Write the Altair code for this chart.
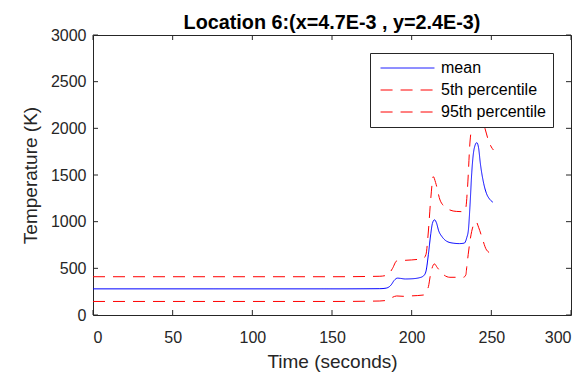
import altair as alt
import pandas as pd

# ---- data ----
series_names = ["mean", "5th percentile", "95th percentile"]

mean_time = [0, 150, 180, 184, 187, 189, 191, 193, 196, 200, 205, 207.5, 209, 210.5,
             212, 213, 214.3, 215.5, 217, 219, 222, 226, 230, 233, 234.6, 235.6, 236.7,
             237.7, 239.2, 240.9, 242, 243.1, 245.2, 247, 249, 251]
mean_temp = [280, 280, 282, 288, 320, 370, 395, 392, 386, 388, 400, 420, 470, 650,
             870, 980, 1020, 990, 900, 840, 790, 770, 765, 770, 830, 911, 1200,
             1522, 1780, 1847, 1790, 1625, 1410, 1300, 1240, 1208]

p5_time = [0, 150, 180, 185, 188, 190.6, 195, 200, 207.4, 209, 210.5, 212, 214.3, 216,
           219, 224, 232.5, 234, 234.6, 235.5, 236.7, 238.5, 240.4, 242, 244, 247, 251]
p5_temp = [145, 145, 150, 160, 190, 204, 200, 205, 214, 250, 303, 450, 547, 510,
           447, 404, 404, 430, 518, 650, 804, 950, 1000, 940, 839, 697, 650]

p95_time = [0, 150, 180, 185, 188, 190.6, 195, 200, 207.4, 209, 210.5, 212, 213.6, 215,
            217.8, 220, 224, 228, 232.5, 234, 235, 236.7, 237.7, 239, 241, 243, 246,
            248, 250, 251.3]
p95_temp = [410, 410, 415, 430, 500, 579, 585, 590, 607, 650, 900, 1250, 1482, 1420,
            1232, 1170, 1125, 1110, 1107, 1150, 1350, 1875, 2015, 2150, 2220, 2150, 2000,
            1880, 1800, 1768]

x_ticks = [0, 50, 100, 150, 200, 250, 300]
y_ticks = [0, 500, 1000, 1500, 2000, 2500, 3000]

rows = []
for name, ts, vs in zip(series_names, [mean_time, p5_time, p95_time],
                        [mean_temp, p5_temp, p95_temp]):
    for t, v in zip(ts, vs):
        rows.append({"series": name, "time": t, "temp": v})
df = pd.DataFrame(rows)

W, H = 478, 280
FONT = "Liberation Sans"
INK = "#262626"
TL = 5  # inward tick length

xs = alt.Scale(domain=[0, 300], nice=False, zero=False)
ys = alt.Scale(domain=[0, 3000], nice=False, zero=False)

x_axis = alt.Axis(values=x_ticks, format="d", title="Time (seconds)", grid=False,
                  domain=False, ticks=False, tickSize=0, labelPadding=14, titlePadding=7,
                  labelFontSize=16, titleFontSize=19, labelColor=INK, titleColor=INK,
                  labelFont=FONT, titleFont=FONT, titleFontWeight="normal")
y_axis = alt.Axis(values=y_ticks, format="d", title="Temperature (K)", grid=False,
                  domain=False, ticks=False, tickSize=0, labelPadding=7, titlePadding=10,
                  labelFontSize=16, titleFontSize=19, labelColor=INK, titleColor=INK,
                  labelFont=FONT, titleFont=FONT, titleFontWeight="normal")

legend = alt.Legend(title=None, orient="top-right", offset=18, fillColor="white",
                    strokeColor=INK, padding=7, labelFontSize=16, labelFont=FONT,
                    labelColor="black", symbolType="stroke", symbolSize=2900,
                    symbolStrokeWidth=1, clipHeight=16, rowPadding=6, labelOffset=6,
                    symbolOffset=3, cornerRadius=0)

lines = alt.Chart(df).mark_line(strokeWidth=1, interpolate="monotone").encode(
    x=alt.X("time:Q", scale=xs, axis=x_axis),
    y=alt.Y("temp:Q", scale=ys, axis=y_axis),
    color=alt.Color("series:N", sort=series_names,
                    scale=alt.Scale(domain=series_names,
                                    range=["#0000ff", "#ff0000", "#ff0000"]),
                    legend=legend),
    strokeDash=alt.StrokeDash("series:N", sort=series_names,
                              scale=alt.Scale(domain=series_names,
                                              range=[[1, 0], [12, 8], [12, 8]]),
                              legend=legend),
)

xt = pd.DataFrame({"time": x_ticks})
yt = pd.DataFrame({"temp": y_ticks})

tick_bottom = alt.Chart(xt).mark_rule(color=INK, strokeWidth=1).encode(
    x=alt.X("time:Q", scale=xs, axis=x_axis), y=alt.value(H), y2=alt.value(H - TL))
tick_top = alt.Chart(xt).mark_rule(color=INK, strokeWidth=1).encode(
    x=alt.X("time:Q", scale=xs, axis=x_axis), y=alt.value(0), y2=alt.value(TL))
tick_left = alt.Chart(yt).mark_rule(color=INK, strokeWidth=1).encode(
    y=alt.Y("temp:Q", scale=ys, axis=y_axis), x=alt.value(0), x2=alt.value(TL))
tick_right = alt.Chart(yt).mark_rule(color=INK, strokeWidth=1).encode(
    y=alt.Y("temp:Q", scale=ys, axis=y_axis), x=alt.value(W), x2=alt.value(W - TL))

chart = alt.layer(lines, tick_bottom, tick_top, tick_left, tick_right).properties(
    width=W, height=H,
    title=alt.TitleParams("Location 6:(x=4.7E-3 , y=2.4E-3)", font=FONT, fontSize=19.8,
                          fontWeight="bold", color="black", anchor="middle", offset=-6),
    autosize=alt.AutoSizeParams(type="none"),
    padding={"left": 85, "top": 27, "right": 8, "bottom": 57},
    background="white",
).configure_view(stroke=INK, strokeWidth=1)

chart.save("out.html", embed_options={"renderer": "svg", "actions": False})
